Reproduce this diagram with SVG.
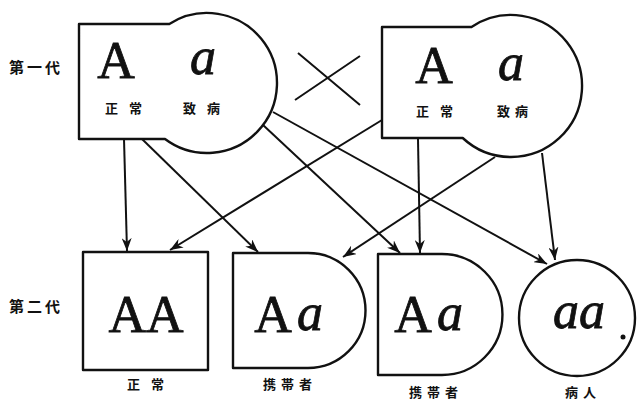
<svg xmlns="http://www.w3.org/2000/svg" width="643" height="402" viewBox="0 0 643 402">
  <defs>
    <style>
      .shape { fill: none; stroke: #111; stroke-width: 2.4; stroke-linejoin: round; }
      .edge { fill: none; stroke: #111; stroke-width: 2; }
      .big { font-family: "Liberation Serif", "DejaVu Serif", serif; font-size: 52px; fill: #111; stroke: #111; stroke-width: 0.8; text-anchor: middle; }
      .ital { font-style: italic; }
      .cn { font-family: "Noto Sans CJK JP", "Noto Sans CJK SC", sans-serif; font-size: 13px; font-weight: bold; fill: #111; text-anchor: middle; letter-spacing: 5px; }
      .wide { letter-spacing: 11px; }
      .gen { font-family: "Noto Sans CJK JP", "Noto Sans CJK SC", sans-serif; font-size: 15px; font-weight: bold; fill: #111; letter-spacing: 3px; }
    </style>
    <marker id="arr" markerUnits="userSpaceOnUse" markerWidth="14" markerHeight="10" refX="13" refY="5" orient="auto">
      <path d="M0,0 L13,5 L0,10 L4,5 Z" fill="#111"/>
    </marker>
  </defs>
  <rect width="643" height="402" fill="#fff"/>

  <g id="label-gen1"><text class="gen" x="9" y="73">第一代</text></g>
  <g id="label-gen2"><text class="gen" x="9" y="312">第二代</text></g>

  <g id="parent-left">
    <path class="shape" d="M169.3,24 L79,24 L79,139 L165,139 A70,70 0 1 0 169.3,24 Z"/>
    <text class="big" x="116" y="78">A</text>
    <text class="big ital" x="203" y="74">a</text>
    <text class="cn wide" x="129" y="113">正常</text>
    <text class="cn wide" x="207" y="113">致病</text>
  </g>

  <g id="cross">
    <path class="edge" d="M298,53 L360,105 M295,100 L360,56" stroke-width="3"/>
  </g>

  <g id="parent-right">
    <path class="shape" d="M471.5,27 L382,27 L382,138 L462.7,138 A71,71 0 1 0 471.5,27 Z"/>
    <text class="big" x="434" y="83">A</text>
    <text class="big ital" x="511" y="80">a</text>
    <text class="cn wide" x="440" y="116">正常</text>
    <text class="cn" x="515" y="116">致病</text>
  </g>

  <g id="child-AA">
    <rect class="shape" x="83" y="252" width="125" height="118"/>
    <text class="big" x="146" y="332">AA</text>
    <text class="cn wide" x="151" y="389">正常</text>
  </g>

  <g id="child-Aa-1">
    <path class="shape" d="M308,253 L233,253 L233,368 L308,368 A57.5,57.5 0 0 0 308,253 Z"/>
    <text class="big" x="273" y="332">A</text>
    <text class="big ital" x="310" y="330">a</text>
    <text class="cn" x="290" y="389">携帯者</text>
  </g>

  <g id="child-Aa-2">
    <path class="shape" d="M442,254 L378,254 L378,375 L442,375 A60.5,60.5 0 0 0 442,254 Z"/>
    <text class="big" x="413" y="332">A</text>
    <text class="big ital" x="450" y="330">a</text>
    <text class="cn" x="436" y="397">携帯者</text>
  </g>

  <g id="child-aa">
    <circle class="shape" cx="577" cy="318" r="58"/>
    <text class="big ital" x="579" y="328">aa</text>
    <circle cx="623" cy="337" r="2.5" fill="#111"/>
    <text class="cn" x="583" y="397">病人</text>
  </g>

  <g id="connectors">
    <line class="edge" x1="124" y1="139" x2="127" y2="251" marker-end="url(#arr)"/>
    <line class="edge" x1="142" y1="139" x2="258" y2="252" marker-end="url(#arr)"/>
    <line class="edge" x1="382" y1="120" x2="170" y2="250" marker-end="url(#arr)"/>
    <line class="edge" x1="263" y1="125" x2="400" y2="253" marker-end="url(#arr)"/>
    <line class="edge" x1="273" y1="112" x2="547" y2="264" marker-end="url(#arr)"/>
    <line class="edge" x1="418" y1="139" x2="420" y2="253" marker-end="url(#arr)"/>
    <line class="edge" x1="495" y1="157" x2="343" y2="257" marker-end="url(#arr)"/>
    <line class="edge" x1="542" y1="153" x2="555" y2="260" marker-end="url(#arr)" stroke-width="2.6"/>
  </g>
</svg>
